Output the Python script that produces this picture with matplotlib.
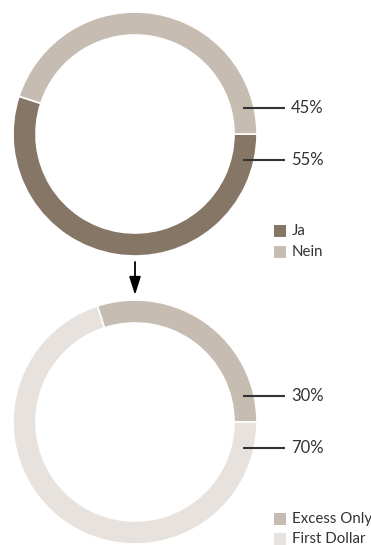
import matplotlib
matplotlib.use("Agg")
import matplotlib.pyplot as plt
from matplotlib.patches import Rectangle

plt.rcParams['font.family'] = ['Lato', 'DejaVu Sans']

# top ring: yes / no
top_labels = ['Ja', 'Nein']
top_values = [55, 45]
top_colors = ['#867666', '#c6bcb1']

# bottom ring: cover type
bottom_labels = ['Excess Only', 'First Dollar']
bottom_values = [30, 70]
bottom_colors = ['#c6bcb1', '#e7e2dd']

W, H = 371, 545
R, RING = 122, 23
TEXT = '#333333'


def ring(ax, cy, values, colors, counterclock):
  ax.pie(values, colors=colors, center=(135, cy), radius=R, startangle=0,
         counterclock=counterclock, frame=True,
         wedgeprops=dict(width=RING, edgecolor='white', linewidth=1.2))


def value_tags(ax, cy, upper, lower):
  for val, y in ((upper, cy + 26), (lower, cy - 26)):
    ax.plot([243, 285], [y, y], color=TEXT, lw=1.5, solid_capstyle='butt')
    ax.text(291, y, '{}%'.format(val), va='center', ha='left',
            fontsize=12, color=TEXT)


def legend_block(ax, y0, labels, colors, gap):
  for i, (lab, col) in enumerate(zip(labels, colors)):
    y = y0 - i * gap
    ax.add_patch(Rectangle((274, y - 6), 12, 12, facecolor=col, edgecolor='none'))
    ax.text(292, y, lab, va='center', ha='left', fontsize=10.8, color=TEXT)


def main():
  fig = plt.figure(figsize=(W / 100, H / 100), dpi=100)
  ax = fig.add_axes([0, 0, 1, 1])

  top_cy = H - 134
  bot_cy = H - 422

  ring(ax, top_cy, top_values, top_colors, counterclock=False)
  ring(ax, bot_cy, bottom_values, bottom_colors, counterclock=True)

  value_tags(ax, top_cy, top_values[1], top_values[0])
  value_tags(ax, bot_cy, bottom_values[0], bottom_values[1])

  legend_block(ax, H - 231, top_labels, top_colors, 21)
  legend_block(ax, H - 519, bottom_labels, bottom_colors, 20)

  ax.annotate('', xy=(135, H - 295), xytext=(135, H - 262),
              arrowprops=dict(arrowstyle='-|>,head_length=1.1,head_width=0.35',
                              color='black', lw=1.3, shrinkA=0, shrinkB=0))

  ax.set_xlim(0, W)
  ax.set_ylim(0, H)
  ax.set_aspect('auto')
  ax.axis('off')
  fig.savefig('out.png', dpi=100, facecolor='white')


if __name__ == "__main__":
  main()
